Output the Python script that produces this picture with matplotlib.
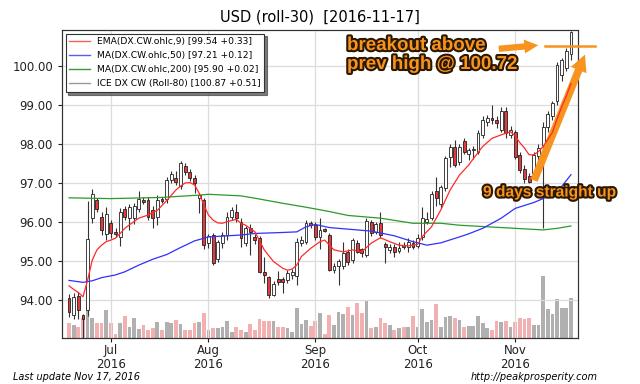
import numpy as np
import pandas as pd
import matplotlib
matplotlib.use('Agg')
import matplotlib.pyplot as plt
import matplotlib.patheffects as pe
from matplotlib.lines import Line2D

# --- data ---
dates = pd.bdate_range('2016-06-20', '2016-11-17')

opens = [94.05, 93.62, 94.12, 93.62, 93.75, 96.11, 96.57, 96.14, 95.69, 95.97,
         95.75, 95.63, 96.33, 96.11, 96.10, 96.33, 96.57, 96.57, 96.31, 96.14,
         96.59, 96.58, 97.08, 97.12, 96.91, 97.43, 97.29, 97.12, 96.61, 96.57,
         95.46, 95.67, 95.05, 95.46, 95.67, 96.14, 96.27, 96.01, 95.47, 95.84,
         95.63, 95.59, 94.73, 94.59, 94.14, 94.54, 94.54, 94.52, 94.65, 94.62,
         95.47, 95.50, 95.97, 95.93, 95.63, 95.82, 95.67, 94.78, 94.88, 94.88,
         95.24, 95.03, 95.46, 95.30, 95.16, 96.00, 95.75, 95.97, 95.44, 95.29,
         95.36, 95.27, 95.41, 95.37, 95.46, 95.40, 95.63, 96.01, 96.10, 96.80,
         96.46, 96.88, 97.66, 97.93, 97.54, 98.06, 97.74, 97.83, 97.80, 98.23,
         98.57, 98.66, 98.61, 98.36, 98.85, 98.23, 98.29, 97.72, 97.35, 97.18,
         97.25, 97.69, 97.97, 98.44, 98.70, 99.10, 99.75, 99.95, 100.30]
highs = [94.16, 94.19, 94.22, 93.66, 96.55, 96.84, 96.62, 96.27, 96.39, 96.05,
         95.85, 96.35, 96.40, 96.45, 96.50, 96.80, 96.65, 96.65, 96.40, 96.69,
         96.65, 97.15, 97.31, 97.30, 97.56, 97.50, 97.35, 97.20, 96.75, 96.62,
         95.70, 95.72, 95.55, 95.75, 96.25, 96.38, 96.45, 96.10, 95.90, 95.95,
         95.70, 95.65, 95.10, 94.62, 94.50, 94.75, 94.60, 94.78, 94.80, 95.60,
         95.65, 96.05, 96.02, 96.00, 96.10, 95.85, 95.72, 94.95, 95.05, 95.50,
         95.30, 95.60, 95.55, 95.35, 96.10, 96.05, 96.00, 96.27, 95.50, 95.45,
         95.45, 95.50, 95.50, 95.60, 95.55, 95.70, 96.38, 96.25, 96.80, 97.15,
         96.95, 97.70, 98.00, 98.10, 98.00, 98.15, 97.90, 97.95, 98.35, 98.70,
         98.74, 98.99, 98.70, 98.95, 98.95, 98.45, 98.35, 97.80, 97.45, 97.25,
         97.80, 98.00, 98.55, 98.85, 99.10, 100.10, 100.20, 100.45, 100.88]
lows = [93.58, 93.52, 93.52, 92.90, 93.60, 95.98, 96.25, 95.67, 95.54, 95.60,
        95.62, 95.39, 96.05, 95.80, 95.95, 96.25, 96.45, 96.05, 95.85, 95.93,
        96.50, 96.50, 97.00, 96.95, 96.85, 97.20, 97.05, 96.75, 96.23, 95.31,
        95.35, 94.90, 94.98, 95.35, 95.55, 96.05, 96.00, 95.37, 95.40, 95.16,
        95.45, 94.70, 94.45, 94.05, 94.10, 94.40, 94.18, 94.45, 94.55, 94.39,
        95.40, 95.45, 95.85, 95.55, 95.30, 95.75, 94.75, 94.70, 94.39, 94.80,
        94.90, 94.95, 95.20, 95.10, 95.10, 95.65, 95.70, 95.60, 94.95, 95.20,
        95.10, 95.20, 95.30, 95.24, 95.30, 95.35, 95.55, 95.95, 96.05, 96.40,
        96.35, 96.80, 97.40, 97.40, 97.45, 97.75, 97.59, 97.60, 97.75, 98.15,
        98.45, 98.50, 98.40, 98.30, 98.15, 98.15, 97.60, 97.25, 97.00, 96.99,
        97.15, 97.55, 95.84, 98.30, 98.60, 99.00, 99.60, 99.85, 100.15]
closes = [93.69, 94.09, 93.75, 93.52, 95.57, 96.71, 96.33, 95.80, 96.20, 95.71,
          95.70, 96.27, 96.14, 96.38, 96.40, 96.59, 96.52, 96.14, 96.10, 96.57,
          96.55, 97.08, 97.23, 97.02, 97.50, 97.29, 97.12, 96.99, 96.69, 95.41,
          95.65, 94.95, 95.48, 95.67, 96.14, 96.31, 96.10, 95.59, 95.84, 95.75,
          95.54, 94.73, 94.66, 94.14, 94.43, 94.48, 94.48, 94.71, 94.73, 95.50,
          95.54, 95.97, 95.93, 95.63, 95.80, 95.78, 94.78, 94.88, 95.01, 95.20,
          94.99, 95.54, 95.24, 95.20, 96.04, 95.71, 95.94, 95.67, 95.37, 95.37,
          95.23, 95.33, 95.36, 95.50, 95.37, 95.59, 96.10, 96.08, 96.72, 96.61,
          96.89, 97.63, 97.93, 97.46, 97.93, 97.80, 97.84, 97.87, 98.27, 98.61,
          98.65, 98.61, 98.53, 98.85, 98.27, 98.36, 97.66, 97.33, 97.09, 97.03,
          97.72, 97.90, 98.44, 98.75, 99.05, 100.02, 100.15, 100.36, 100.87]
volume = [15, 13, 11, 20, 44, 20, 15, 15, 28, 15, 4, 15, 22, 11, 20, 9, 13, 8, 10, 16,
          8, 16, 15, 18, 14, 8, 8, 15, 16, 25, 8, 10, 10, 11, 17, 6, 11, 8, 6, 14,
          8, 19, 17, 17, 17, 11, 11, 10, 6, 30, 14, 18, 12, 17, 25, 4, 23, 13, 26, 24,
          31, 23, 35, 25, 37, 10, 11, 20, 15, 13, 8, 10, 11, 11, 22, 11, 29, 16, 18, 34,
          11, 21, 22, 20, 18, 11, 12, 12, 22, 15, 10, 8, 17, 16, 17, 11, 16, 20, 19, 20,
          13, 13, 61, 29, 24, 39, 30, 30, 40]

# moving averages, read at sample points (candle index, value)
ema_idx = [0, 1, 2, 3, 4, 5, 6, 7, 8, 9, 10, 11, 12, 13, 15, 17, 19, 21, 23, 24, 25, 26,
           27, 28, 29, 30, 31, 32, 33, 34, 36, 37, 38, 40, 42, 44, 46, 47, 48, 49, 50,
           52, 54, 55, 57, 59, 61, 63, 65, 67, 69, 71, 73, 75, 76, 78, 80, 82, 84, 86,
           87, 89, 91, 93, 95, 96, 97, 98, 99, 100, 101, 102, 104, 105, 106, 107, 108]
ema_val = [94.37, 94.28, 94.20, 94.09, 94.52, 95.03, 95.29, 95.41, 95.50, 95.54, 95.59,
           95.71, 95.84, 95.93, 96.10, 96.18, 96.30, 96.55, 96.82, 96.92, 97.00, 97.01,
           96.95, 96.74, 96.44, 96.18, 96.05, 95.98, 95.97, 96.01, 96.07, 95.97, 95.92,
           95.75, 95.29, 94.99, 94.82, 94.77, 94.80, 94.90, 95.12, 95.33, 95.50, 95.54,
           95.29, 95.24, 95.29, 95.24, 95.46, 95.60, 95.50, 95.41, 95.39, 95.43, 95.63,
           95.88, 96.31, 96.82, 97.20, 97.46, 97.62, 97.93, 98.14, 98.23, 98.31, 98.20,
           98.03, 97.89, 97.72, 97.72, 97.80, 97.93, 98.29, 98.63, 98.94, 99.22, 99.54]
ma50_idx = [0, 3, 5, 7, 10, 12, 15, 18, 21, 24, 27, 30, 37, 40, 45, 49, 51, 53, 56, 60,
            65, 70, 74, 77, 80, 84, 86, 89, 93, 96, 100, 103, 106, 108]
ma50_val = [94.51, 94.46, 94.50, 94.58, 94.65, 94.73, 94.90, 95.05, 95.17, 95.35, 95.52,
            95.62, 95.67, 95.71, 95.73, 95.75, 95.88, 95.94, 95.86, 95.82, 95.77, 95.65,
            95.50, 95.41, 95.47, 95.62, 95.70, 95.84, 96.10, 96.35, 96.50, 96.65, 96.91,
            97.21]
ma200_idx = [0, 9, 20, 28, 30, 37, 40, 46, 51, 56, 60, 67, 74, 80, 84, 90, 96, 102, 105,
             108]
ma200_val = [96.62, 96.60, 96.63, 96.69, 96.71, 96.67, 96.61, 96.48, 96.38, 96.27, 96.17,
             96.10, 95.97, 95.97, 95.92, 95.88, 95.84, 95.80, 95.84, 95.90]

legend_labels = ['EMA(DX.CW.ohlc,9) [99.54 +0.33]',
                 'MA(DX.CW.ohlc,50) [97.21 +0.12]',
                 'MA(DX.CW.ohlc,200) [95.90 +0.02]',
                 'ICE DX CW (Roll-80) [100.87 +0.51]']

o = np.array(opens)
h = np.array(highs)
l = np.array(lows)
c = np.array(closes)
x = np.arange(len(dates))
up = c >= o

orange = '#f7931e'

fig = plt.figure(figsize=(6.4, 3.84), dpi=100)
ax = fig.add_axes([0.097, 0.12, 0.806, 0.802])
axv = ax.twinx()
# volume behind the candles
ax.set_zorder(axv.get_zorder() + 1)
ax.patch.set_visible(False)
axv.set_facecolor('#f6f6f6')

vcol = np.where(up, '#b0b0b0', '#f2b0b0')
axv.bar(x, volume, width=0.8, color=vcol, linewidth=0)
axv.set_ylim(0, 305)
axv.set_yticks([])

# candles
ax.vlines(x, l, h, color='#333333', linewidth=0.8, zorder=2)
body_lo = np.minimum(o, c)
body_h = np.maximum(np.abs(c - o), 0.02)
ax.bar(x, body_h, bottom=body_lo, width=0.62,
       color=np.where(up, 'white', '#e23b3b'), edgecolor='#222222',
       linewidth=0.6, zorder=3)

ax.plot(ma200_idx, ma200_val, color='#2a9a2a', lw=0.9, zorder=4)
ax.plot(ma50_idx, ma50_val, color='#3030ff', lw=0.9, zorder=4)
ax.plot(ema_idx, ema_val, color='#ff2a2a', lw=0.9, zorder=4)

ax.set_xlim(-1.5, len(x) + 0.5)
ax.set_ylim(93.04, 100.91)
ax.set_yticks(np.arange(94, 101, 1))
ax.yaxis.set_major_formatter(matplotlib.ticker.FormatStrFormatter('%.2f'))

# month ticks at first trading day
months = pd.Series(dates.month)
first = [i for i in range(1, len(dates)) if months[i] != months[i - 1]]
ax.set_xticks(first)
ax.set_xticklabels([dates[i].strftime('%b\n%Y') for i in first], linespacing=1.05)
ax.tick_params(labelsize=8.5, length=3, colors='#222222')
ax.tick_params(axis='x', pad=1.5)
ax.grid(True, color='#dcdcdc', linewidth=0.9)
ax.set_axisbelow(True)
for s in list(ax.spines.values()) + list(axv.spines.values()):
    s.set_color('#333333')

handles = [Line2D([], [], color='#ff5a5a', lw=1),
           Line2D([], [], color='#5a5aff', lw=1),
           Line2D([], [], color='#3a9a3a', lw=1),
           Line2D([], [], color='#999999', lw=1)]
leg = ax.legend(handles, legend_labels, loc='upper left', fontsize=6.6,
                fancybox=False,
                shadow={'color': '#444444', 'alpha': 0.7, 'ox': 1.8, 'oy': -1.8},
                framealpha=1, borderaxespad=0.4, handlelength=2.2, labelspacing=0.55)
leg.get_frame().set_edgecolor('#333333')
leg.get_frame().set_linewidth(0.8)

ax.set_title('USD (roll-30)  [2016-11-17]', fontsize=10.5, pad=6)

fig.text(13 / 640, 1 - 377 / 384, 'Last update Nov 17, 2016', fontsize=7,
         style='italic', va='center', ha='left')
fig.text(598 / 640, 1 - 377 / 384, 'http://peakprosperity.com', fontsize=7,
         style='italic', va='center', ha='right')

# annotations
glow = [pe.withStroke(linewidth=3, foreground='#2a1800')]
fig.text(347 / 640, 1 - 55 / 384, 'breakout above\nprev high @ 100.72',
         fontsize=13.5, fontweight='bold', family='Liberation Sans', color=orange,
         va='center', ha='left', linespacing=1.15, path_effects=glow)
fig.text(483 / 640, 1 - 192 / 384, '9 days straight up',
         fontsize=11.2, fontweight='bold', family='Liberation Sans', color=orange,
         va='center', ha='left', path_effects=glow)

ax.annotate('', xy=(541 / 640, 1 - 45 / 384), xytext=(496 / 640, 1 - 49 / 384),
            xycoords='figure fraction', textcoords='figure fraction',
            arrowprops=dict(arrowstyle='simple,head_width=1.0,head_length=1.0,tail_width=0.45',
                            color=orange, lw=0))
ax.annotate('', xy=(586 / 640, 1 - 52 / 384), xytext=(533 / 640, 1 - 183 / 384),
            xycoords='figure fraction', textcoords='figure fraction',
            arrowprops=dict(arrowstyle='simple,head_width=1.2,head_length=1.2,tail_width=0.55',
                            color=orange, lw=0))
fig.add_artist(Line2D([545 / 640, 595 / 640], [1 - 46 / 384, 1 - 46 / 384],
                      color=orange, lw=1.8, transform=fig.transFigure))

fig.savefig('out.png', dpi=100, facecolor='white')
